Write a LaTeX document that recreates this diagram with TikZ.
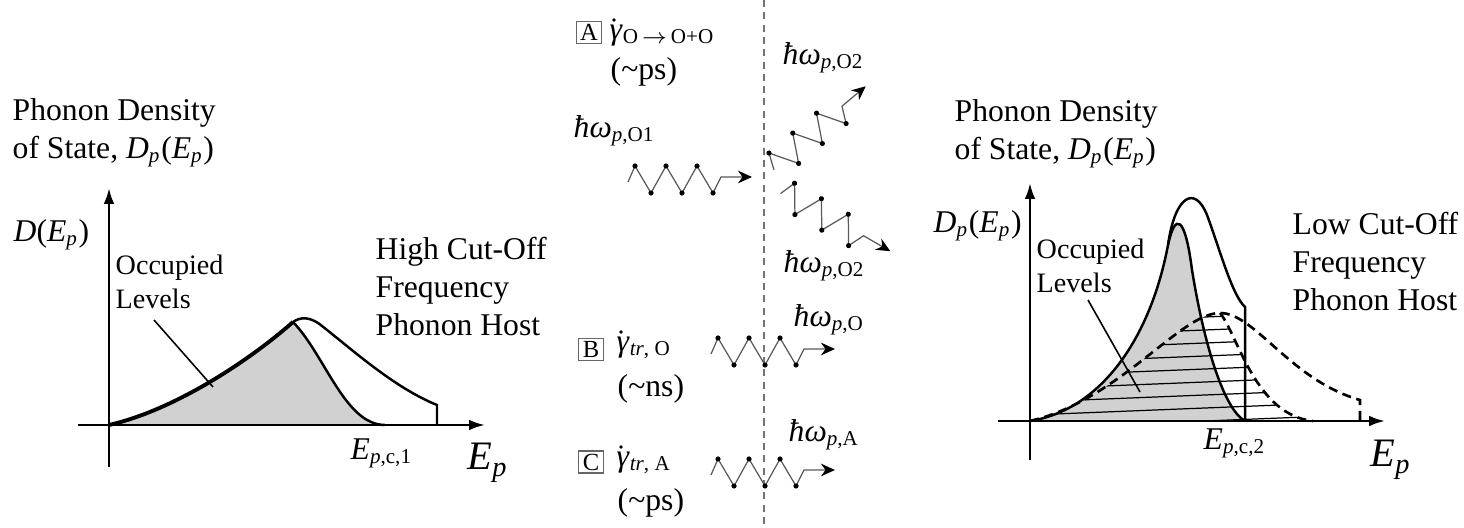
\documentclass[tikz,border=0pt]{standalone}
\usepackage{fontspec}
\setmainfont{Liberation Serif}
\usepackage{tikz}
\usetikzlibrary{arrows.meta}

\newcommand{\mv}[1]{\textit{#1}}
\newcommand{\lo}[1]{\textsubscript{#1}}

\newcommand{\phononwave}[2]{%
  \begin{scope}[shift={#1},rotate=#2]
    \draw[wave] (0,3) -- (7,-13) -- (23,14) -- (38,-13) -- (54,14) -- (69,-13) -- (85,14) -- (93,-2) -- (124,-2);
    \foreach \p in {(7,-13),(23,14),(38,-13),(54,14),(69,-13),(85,14)}
      \fill \p circle (2.6);
  \end{scope}}

\begin{document}
\begin{tikzpicture}[x=0.01cm, y=-0.01cm,
    txt/.style={font=\fontsize{9}{10.9}\selectfont, inner sep=0, align=left},
    small/.style={font=\fontsize{8}{9.6}\selectfont, inner sep=0, align=left},
    big/.style={font=\fontsize{11.5}{13}\selectfont, inner sep=0},
    axis/.style={line width=0.7pt, -{Latex[length=4.5pt,width=3pt]}},
    curve/.style={line width=0.7pt},
    dcurve/.style={line width=0.75pt, dash pattern=on 2.6pt off 1.6pt},
    hatch/.style={line width=0.35pt},
    wave/.style={draw=black!65, line width=0.35pt, -{Stealth[length=4pt,width=3.6pt,color=black]}},
    letterbox/.style={draw=black!60, line width=0.4pt, font=\fontsize{7}{8}\selectfont,
      minimum width=0.25cm, minimum height=0.22cm, inner sep=0},
    divider/.style={draw=black!55, line width=0.5pt, dash pattern=on 2pt off 1.5pt}]
  \useasboundingbox (0,0) rectangle (1464,528);

  % high cut-off host
  \coordinate (o1) at (109,425);
  \coordinate (pk1) at (293,322);
  \fill[black!18] (o1) .. controls (175,410) and (250,360) .. (pk1)
    .. controls (325,355) and (345,425) .. (385,425) -- cycle;
  \draw[curve] (pk1) .. controls (325,355) and (345,425) .. (385,425);
  \draw[curve] (pk1) .. controls (300,317) and (310,316) .. (322,326)
    .. controls (355,352) and (395,388) .. (437,405) -- (437,425);
  \draw[line width=1.1pt] (o1) .. controls (175,410) and (250,360) .. (pk1);
  \draw[axis] (78,425) -- (485,425);
  \draw[axis] (109,467) -- (109,188);
  \coordinate (ptr1a) at (154,320);
  \coordinate (ptr1b) at (213,387);
  \draw[line width=0.45pt] (ptr1a) -- (ptr1b);

  \node[txt, anchor=north west] (ttl1) at (12,97.5) {Phonon Density\\of State, \mv{D}\lo{\mv{p}}(\mv{E}\lo{\mv{p}})};
  \node[txt, anchor=base west] (dl1) at (13,242) {\mv{D}(\mv{E}\lo{\mv{p}})};
  \node[small, anchor=north west] (occ1) at (115,254.7) {Occupied\\Levels};
  \node[txt, anchor=north west] (host1) at (375,236.3) {High Cut-Off\\Frequency\\Phonon Host};
  \node[txt, anchor=base west] (epc1) at (350,460) {\mv{E}\lo{\mv{p},c,1}};
  \node[big, anchor=base west] (ep1) at (467,470) {\mv{E}\lo{\mv{p}}};

  % processes
  \draw[divider] (764,0) -- (764,528);
  \node[letterbox] (boxA) at (589,32.5) {A};
  \node[txt, anchor=base west] (gA) at (609,40) {\mv{γ}\lo{O\,$\rightarrow$\,O+O}};
  \fill ([shift={(5,-20)}]gA.base west) circle (1.8);
  \node[txt, anchor=base west] (tA) at (610,80) {(\textasciitilde ps)};
  \node[txt, anchor=base west] (wA1) at (573,138) {\mv{ħω}\lo{\mv{p},O1}};
  \node[txt, anchor=base west] (wA2) at (782,65) {\mv{ħω}\lo{\mv{p},O2}};
  \node[txt, anchor=base west] (wA3) at (783,273) {\mv{ħω}\lo{\mv{p},O2}};
  \phononwave{(628,179)}{0}
  \phononwave{(772,167.5)}{40}
  \phononwave{(782,191)}{-30}

  \node[letterbox] (boxB) at (591,349.5) {B};
  \node[txt, anchor=base west] (gB) at (616,352) {\mv{γ}\lo{\mv{tr}, O}};
  \fill ([shift={(5,-20)}]gB.base west) circle (1.8);
  \node[txt, anchor=base west] (tB) at (617,397) {(\textasciitilde ns)};
  \node[txt, anchor=base west] (wB) at (793,327) {\mv{ħω}\lo{\mv{p},O}};
  \phononwave{(711,351)}{0}

  \node[letterbox] (boxC) at (591,462) {C};
  \node[txt, anchor=base west] (gC) at (616,467) {\mv{γ}\lo{\mv{tr}, A}};
  \fill ([shift={(5,-20)}]gC.base west) circle (1.8);
  \node[txt, anchor=base west] (tC) at (617,511) {(\textasciitilde ps)};
  \node[txt, anchor=base west] (wC) at (788,442) {\mv{ħω}\lo{\mv{p},A}};
  \phononwave{(711,472)}{0}

  % low cut-off host
  \coordinate (o2) at (1030,421);
  \coordinate (pk2) at (1220,313);
  \fill[black!18] (o2) .. controls (1100,410) and (1150,340) .. (1168,245)
    .. controls (1175,212) and (1185,215) .. (1192,270)
    .. controls (1205,350) and (1225,410) .. (1245,421) -- cycle;
  \begin{scope}
    \clip (o2) .. controls (1120,400) and (1180,313) .. (pk2)
      .. controls (1238,335) and (1255,415) .. (1313,421) -- cycle;
    \foreach \i in {0,...,8}
      \draw[hatch] (1030,428-13*\i) -- (1330,416-13*\i);
  \end{scope}
  \draw[curve] (o2) .. controls (1100,410) and (1150,340) .. (1168,245)
    .. controls (1175,212) and (1185,215) .. (1192,270)
    .. controls (1205,350) and (1225,410) .. (1245,421);
  \draw[curve] (1168,245) .. controls (1175,195) and (1195,185) .. (1207,215)
    .. controls (1220,250) and (1232,295) .. (1245,307) -- (1245,421);
  \draw[dcurve] (o2) .. controls (1120,400) and (1180,313) .. (pk2)
    .. controls (1255,313) and (1290,380) .. (1360,400) -- (1360,421);
  \draw[dcurve] (pk2) .. controls (1238,335) and (1255,415) .. (1313,421);
  \draw[axis] (998,421) -- (1385,421);
  \draw[axis] (1030,460) -- (1030,183);
  \coordinate (ptr2a) at (1088,300);
  \coordinate (ptr2b) at (1140,392);
  \draw[line width=0.45pt] (ptr2a) -- (ptr2b);

  \node[txt, anchor=north west] (ttl2) at (954,99) {Phonon Density\\of State, \mv{D}\lo{\mv{p}}(\mv{E}\lo{\mv{p}})};
  \node[txt, anchor=base west] (dl2) at (933,233) {\mv{D}\lo{\mv{p}}(\mv{E}\lo{\mv{p}})};
  \node[small, anchor=north west] (occ2) at (1036,238.7) {Occupied\\Levels};
  \node[txt, anchor=north west] (host2) at (1292,211.3) {Low Cut-Off\\Frequency\\Phonon Host};
  \node[txt, anchor=base west] (epc2) at (1203,450) {\mv{E}\lo{\mv{p},c,2}};
  \node[big, anchor=base west] (ep2) at (1370,467) {\mv{E}\lo{\mv{p}}};
\end{tikzpicture}
\end{document}
